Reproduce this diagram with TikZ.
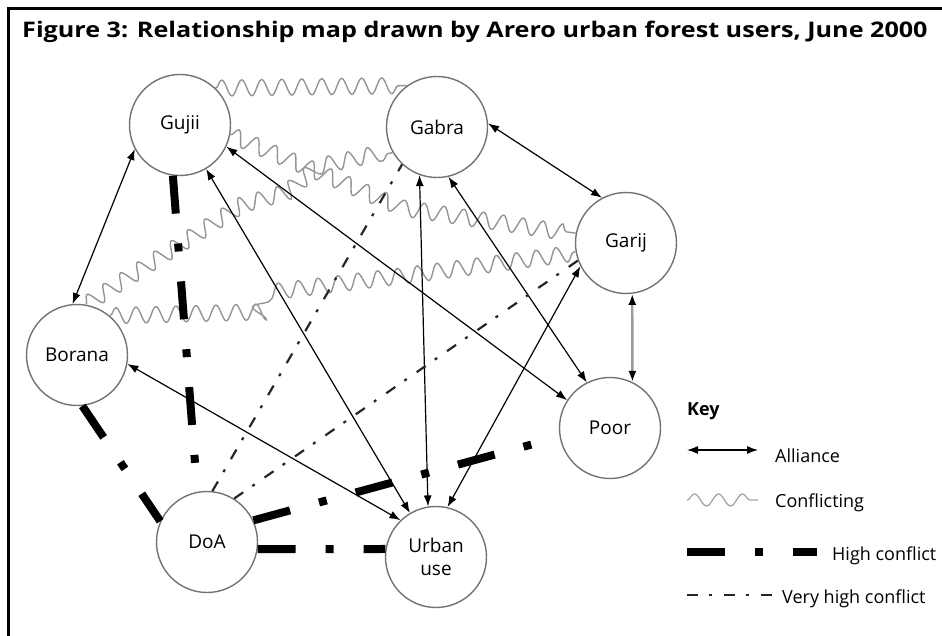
\documentclass[tikz,border=0pt]{standalone}
\usepackage{fontspec}
\setmainfont{Open Sans}
\usetikzlibrary{arrows.meta,decorations.pathmorphing}

\tikzset{
  actor/.style={circle, draw=black!55, line width=1.4pt, minimum size=101pt, inner sep=0pt,
    align=center, font=\fontsize{19}{23}\selectfont},
  alliance/.style={{Latex[length=11pt,width=8pt]}-{Latex[length=11pt,width=8pt]}, line width=1.2pt},
  conflicting/.style={draw=black!42, line width=1.4pt, decorate,
    decoration={snake, segment length=20pt, amplitude=8pt}},
  highconf/.style={line width=8pt, dash pattern=on 38pt off 30pt on 8pt off 30pt},
  veryhigh/.style={line width=2.2pt, draw=black!85, dash pattern=on 11pt off 11pt on 3pt off 12pt},
  keytext/.style={anchor=base west, inner sep=0pt, font=\fontsize{18}{20}\selectfont}
}

\begin{document}
\begin{tikzpicture}[x=1pt, y=-1pt]
  \useasboundingbox (0,0) rectangle (942,636);
  \draw[line width=3pt] (8,636) -- (8,9) -- (942,9);
  \node[anchor=base west, inner sep=0pt, font=\bfseries\fontsize{21.5}{24}\selectfont] (title) at (22,38)
    {\scalebox{1.17}[1]{Figure 3: Relationship map drawn by Arero urban forest users, June 2000}};

  % users
  \node[actor] (gujii) at (180,125) {Gujii};
  \node[actor] (gabra) at (437,127) {Gabra};
  \node[actor] (garij) at (626,243) {Garij};
  \node[actor] (borana) at (77,355) {Borana};
  \node[actor] (poor) at (610,428) {Poor};
  \node[actor] (doa) at (207,542) {DoA};
  \node[actor] (urban) at (436,557) {Urban\\use};

  % conflicting
  \draw[conflicting] (gujii.46) -- (gabra.126);
  \draw[conflicting] (gujii.-11) -- (318,172) -- (400,207) -- (garij.169);
  \draw[conflicting] (borana.80) -- (237,208) -- (290,193) -- (320,168) -- (gabra.210);
  \draw[conflicting] (borana.50) -- (258,312) -- (262,292) -- (400,275) -- (garij.190);

  % alliances
  \draw[alliance] (borana.95) -- (gujii.208);
  \draw[alliance] (gujii) -- (urban);
  \draw[alliance] (gujii.-25) -- (poor.147);
  \draw[alliance] (gabra.4) -- (garij.118);
  \draw[alliance] (gabra.250) -- (urban.99);
  \draw[alliance] (gabra.-77) -- (poor.117);
  \draw[{Latex[length=11pt,width=8pt,black]}-{Latex[length=11pt,width=8pt,black]}, black!40, line width=2.4pt]
    (garij.277) -- (poor.64);
  \draw[alliance] (garij.207) -- (urban.77);
  \draw[alliance] (borana.-10) -- (urban.134);

  % high conflict
  \draw[highconf] (gujii.262) -- (doa.101);
  \draw[highconf] (borana.276) -- (doa.156);
  \draw[highconf] (doa.-8) -- (urban.171);
  \draw[highconf] (doa.25) -- (poor.190);

  % very high conflict
  \draw[veryhigh] (doa.84) -- (gabra.227);
  \draw[veryhigh] (doa.58) -- (garij.200);

  % key
  \node[anchor=base west, inner sep=0pt, font=\bfseries\fontsize{18}{20}\selectfont] (key) at (687,415) {Key};
  \coordinate (k1a) at (687,450); \coordinate (k1b) at (758,450);
  \draw[alliance] (k1a) -- (k1b);
  \node[keytext] (kalliance) at (775,462) {Alliance};
  \coordinate (k2a) at (687,500); \coordinate (k2b) at (758,500);
  \draw[draw=black!35, line width=1.3pt, decorate, decoration={snake, segment length=24pt, amplitude=6pt}] (k2a) -- (k2b);
  \node[keytext] (kconflict) at (775,507) {Conflicting};
  \coordinate (k3a) at (687,552); \coordinate (k3b) at (817,552);
  \draw[highconf] (k3a) -- (k3b);
  \node[keytext] (khigh) at (832,560) {High conflict};
  \coordinate (k4a) at (687,595); \coordinate (k4b) at (773,595);
  \draw[veryhigh] (k4a) -- (k4b);
  \node[keytext] (kveryhigh) at (782,603) {Very high conflict};
\end{tikzpicture}
\end{document}
